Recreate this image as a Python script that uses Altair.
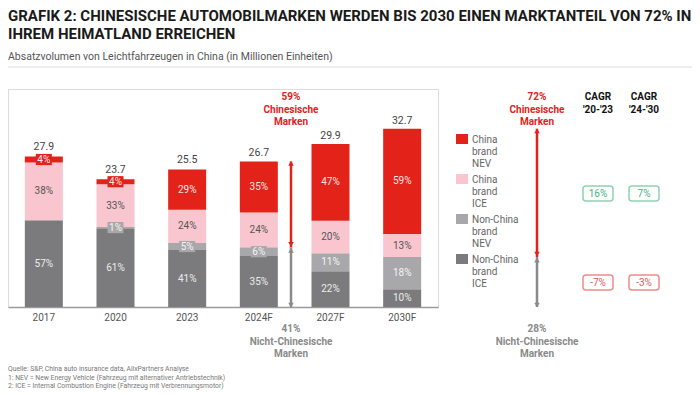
import altair as alt
import pandas as pd

# ---------------- data ----------------
years = ["2017", "2020", "2023", "2024F", "2027F", "2030F"]
totals = [27.9, 23.7, 25.5, 26.7, 29.9, 32.7]
series = ["Non-China brand ICE", "Non-China brand NEV", "China brand ICE", "China brand NEV"]
colors = ["#7b7b7d", "#a8a8aa", "#f9c6cf", "#e3221a"]
label_colors = ["#ececec", "#f4f4f4", "#555555", "#ffe3e3"]
pct_non_china_ice = [57, 61, 41, 35, 22, 10]
pct_non_china_nev = [0, 1, 5, 6, 11, 18]
pct_china_ice = [38, 33, 24, 24, 20, 13]
pct_china_nev = [4, 4, 29, 35, 47, 59]
legend_lines = [["China", "brand", "NEV"], ["China", "brand", "ICE"],
                ["Non-China", "brand", "NEV"], ["Non-China", "brand", "ICE"]]
cagr_headers = [["CAGR", "'20-'23"], ["CAGR", "'24-'30"]]
cagr_china = ["16%", "7%"]
cagr_nonchina = ["-7%", "-3%"]
share_2024 = [59, 41]
share_2030 = [72, 28]
title_lines = ["GRAFIK 2: CHINESISCHE AUTOMOBILMARKEN WERDEN BIS 2030 EINEN MARKTANTEIL VON 72% IN",
               "IHREM HEIMATLAND ERREICHEN"]
subtitle = "Absatzvolumen von Leichtfahrzeugen in China (in Millionen Einheiten)"
footnotes = ["Quelle: S&P, China auto insurance data, AlixPartners Analyse",
             "1: NEV = New Energy Vehicle (Fahrzeug mit alternativer Antriebstechnik)",
             "2: ICE = Internal Combustion Engine (Fahrzeug mit Verbrennungsmotor)"]

pcts = [pct_non_china_ice, pct_non_china_nev, pct_china_ice, pct_china_nev]

rows = []
for yi, yr in enumerate(years):
    lo = 0.0
    for si, s in enumerate(series):
        p = pcts[si][yi]
        v = totals[yi] * p / 100.0
        rows.append(dict(year=yr, series=s, pct=p, lo=lo, hi=lo + v, mid=lo + v / 2,
                         label=f"{p}%", lcol=label_colors[si], bcol=colors[si]))
        lo += v
df = pd.DataFrame(rows)
df = df[df.pct > 0]
tot_df = pd.DataFrame({"year": years, "total": totals, "tl": [f"{t:.1f}" for t in totals]})

W, H = 430, 218
FONT = "Roboto"
xenc = alt.X("year:N", sort=years, title=None,
             scale=alt.Scale(paddingInner=0.47, paddingOuter=0.235),
             axis=alt.Axis(labelAngle=0, ticks=False, domainColor="#9a9a9a", domainWidth=1.5,
                           labelColor="#555555", labelFontSize=10, labelFont=FONT, labelPadding=5))
yscale = alt.Scale(domain=[0, 40])
yenc_lo = alt.Y("lo:Q", scale=yscale, axis=None)

bars = alt.Chart(df).mark_bar(size=38).encode(
    x=xenc, y=yenc_lo, y2="hi:Q",
    color=alt.Color("series:N", scale=alt.Scale(domain=series, range=colors), legend=None))

small = alt.Chart(df[df.pct <= 6]).mark_point(
    shape="M-1,-0.7H1V0.7H-1Z", size=256, filled=True, opacity=1).encode(
    x=alt.X("year:N", sort=years), y=alt.Y("mid:Q", scale=yscale),
    color=alt.Color("bcol:N", scale=None))

seg_text = alt.Chart(df).mark_text(fontSize=10, font=FONT, baseline="middle").encode(
    x=alt.X("year:N", sort=years), y=alt.Y("mid:Q", scale=yscale),
    text="label:N", color=alt.Color("lcol:N", scale=None))

tot_text = alt.Chart(tot_df).mark_text(fontSize=10.5, font=FONT, baseline="bottom", dy=-3,
                                       color="#444444").encode(
    x=alt.X("year:N", sort=years), y=alt.Y("total:Q", scale=yscale), text="tl:N")

one = pd.DataFrame({"k": [0]})


def txt(lines, x, y, size=10, color="#555555", weight="normal", align="center", lh=12.5):
    return alt.Chart(one).mark_text(fontSize=size, font=FONT, fontWeight=weight, color=color,
                                    align=align, baseline="alphabetic", lineHeight=lh).encode(
        x=alt.value(x), y=alt.value(y), text=alt.value(lines))


def rect(x1, x2, y1, y2, fill, stroke=None, radius=0):
    kw = dict(fill=fill, cornerRadius=radius)
    if stroke:
        kw.update(stroke=stroke, strokeWidth=1.5)
    return alt.Chart(one).mark_rect(**kw).encode(
        x=alt.value(x1), x2=alt.value(x2), y=alt.value(y1), y2=alt.value(y2))


layers = [bars, small, seg_text, tot_text]

# arrows (data-driven: total and shares)
RED = "#e3221a"
GREY = "#8a8a8a"


def arrow(xpx, total, share_cn):
    d = pd.DataFrame({"top": [total], "split": [total * (100 - share_cn) / 100.0], "zero": [0.0]})
    ls = []
    ls.append(alt.Chart(d).mark_rule(color=RED, strokeWidth=2.5).encode(
        x=alt.value(xpx), y=alt.Y("top:Q", scale=yscale), y2=alt.Y2("split:Q")))
    ls.append(alt.Chart(d).mark_rule(color=GREY, strokeWidth=2.5).encode(
        x=alt.value(xpx), y=alt.Y("split:Q", scale=yscale), y2=alt.Y2("zero:Q")))
    for fld, shp, col, dy in [("top", "triangle-up", RED, 2), ("split", "triangle-down", RED, -3),
                              ("split", "triangle-up", GREY, 3), ("zero", "triangle-down", GREY, -2)]:
        ls.append(alt.Chart(d).mark_point(shape=shp, filled=True, size=30, opacity=1, color=col,
                                          yOffset=dy).encode(
            x=alt.value(xpx), y=alt.Y(f"{fld}:Q", scale=yscale)))
    return ls


layers += arrow(283, totals[3], share_2024[0])
layers += arrow(529, totals[5], share_2030[0])

layers.append(txt([f"{share_2024[0]}%", "Chinesische", "Marken"], 283, 11, color=RED, weight="bold"))
layers.append(txt([f"{share_2024[1]}%", "Nicht-Chinesische", "Marken"], 283, 243, color="#8a8a8a", weight="bold"))
layers.append(txt([f"{share_2030[0]}%", "Chinesische", "Marken"], 529, 11, color=RED, weight="bold"))
layers.append(txt([f"{share_2030[1]}%", "Nicht-Chinesische", "Marken"], 529, 243, color="#8a8a8a", weight="bold"))

# legend
leg_colors = [colors[3], colors[2], colors[1], colors[0]]
for i, (lines, c) in enumerate(zip(legend_lines, leg_colors)):
    y0 = 45 + i * 40
    layers.append(rect(448, 460, y0, y0 + 10, c))
    layers.append(txt(lines, 464, y0 + 9, color="#666666", align="left", lh=12))

# CAGR
cx = [590, 636]
for i in range(2):
    layers.append(txt(cagr_headers[i], cx[i], 11, color="#111111", weight="bold"))
    layers.append(rect(cx[i] - 15, cx[i] + 15, 97, 112, "#ffffff", "#8fd4b1", 3))
    layers.append(txt(cagr_china[i], cx[i], 108, color="#45b27c"))
    layers.append(rect(cx[i] - 15, cx[i] + 15, 186, 201, "#ffffff", "#f08a8a", 3))
    layers.append(txt(cagr_nonchina[i], cx[i], 197, color="#e25a5a"))

# titles, separator, footnotes
layers.append(txt(title_lines, 0, -68, size=15, color="#1a1a1a", weight="bold", align="left", lh=18))
layers.append(txt(subtitle, 0, -29, size=10.5, color="#555555", align="left"))
layers.append(alt.Chart(one).mark_rule(color="#dddddd", strokeWidth=1).encode(
    x=alt.value(0), x2=alt.value(684), y=alt.value(-22)))
layers.append(txt(footnotes, 0, 282, size=6.8, color="#777777", align="left", lh=8.5))

chart = alt.layer(*layers).properties(
    width=W, height=H,
    autosize=alt.AutoSizeParams(type="none"),
    padding={"left": 0, "top": 81, "right": 254, "bottom": 85},
).configure_view(stroke=None).configure(background="white")

chart.save("out.html", embed_options={"renderer": "svg", "actions": False})
